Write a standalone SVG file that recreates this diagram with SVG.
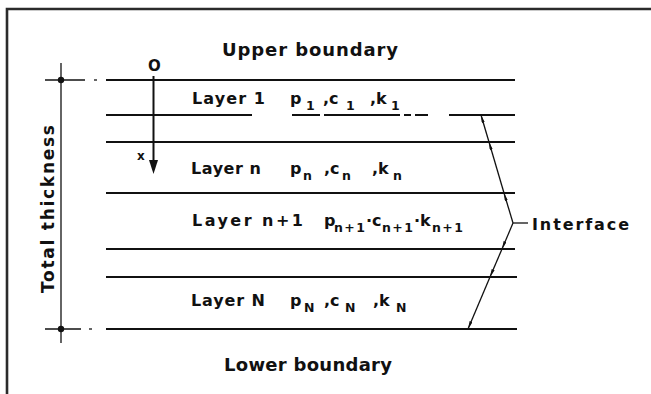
<svg xmlns="http://www.w3.org/2000/svg" width="651" height="394" viewBox="0 0 651 394">
<style>
  .t { font-family: "DejaVu Sans", "Liberation Sans", sans-serif; font-weight: bold; fill: #111; }
  .lay { font-size: 16px; }
  .sub { font-size: 12.5px; }
  .bnd { font-size: 18px; }
  .ln { stroke: #111; stroke-width: 2; fill: none; }
  .thin { stroke: #111; stroke-width: 1.3; fill: none; }
  .lead { stroke: #111; stroke-width: 1.3; fill: none; marker-end: url(#ah); }
</style>
<defs>
  <marker id="ah" viewBox="0 0 10 4" refX="10" refY="2" markerWidth="8" markerHeight="3.2" markerUnits="userSpaceOnUse" orient="auto">
    <path d="M0,0 L10,2 L0,4 z" fill="#111"/>
  </marker>
</defs>
<rect width="651" height="394" fill="#fff"/>
<!-- frame -->
<path d="M7,394 V9 H651" stroke="#2b2b2b" stroke-width="2.6" fill="none"/>

<g id="upper-boundary">
  <text class="t bnd" x="222" y="56" textLength="176" lengthAdjust="spacing">Upper boundary</text>
</g>
<g id="lower-boundary">
  <text class="t bnd" x="224" y="371" textLength="168" lengthAdjust="spacing">Lower boundary</text>
</g>

<g id="layer-lines">
  <line class="ln" x1="106" y1="80" x2="515" y2="80"/>
  <line class="ln" x1="106" y1="115" x2="252" y2="115"/>
  <line class="ln" x1="292" y1="115" x2="320" y2="115"/>
  <line class="ln" x1="324" y1="115" x2="400" y2="115"/>
  <line class="ln" x1="404" y1="115" x2="411" y2="115"/>
  <line class="ln" x1="415" y1="115" x2="428" y2="115"/>
  <line class="ln" x1="449" y1="115" x2="515" y2="115"/>
  <line class="ln" x1="106" y1="142" x2="515" y2="142"/>
  <line class="ln" x1="106" y1="193" x2="515" y2="193"/>
  <line class="ln" x1="106" y1="249" x2="515" y2="249"/>
  <line class="ln" x1="106" y1="277" x2="517" y2="277"/>
  <line class="ln" x1="106" y1="329" x2="517" y2="329"/>
</g>

<g id="x-axis">
  <text class="t" x="148" y="71" font-size="15">O</text>
  <line class="ln" x1="153.5" y1="76" x2="153.5" y2="162"/>
  <path d="M149,160 L158,160 L153.5,174 z" fill="#111"/>
  <text class="t" x="137" y="160" font-size="12">x</text>
</g>

<g id="total-thickness">
  <line class="thin" x1="61" y1="63" x2="61" y2="343" stroke-width="1.6"/>
  <line class="thin" x1="45" y1="80" x2="85" y2="80" stroke-width="1"/>
  <line class="thin" x1="94" y1="80" x2="97" y2="80" stroke-width="1"/>
  <line class="thin" x1="45" y1="329" x2="81" y2="329" stroke-width="1"/>
  <line class="thin" x1="89" y1="329" x2="92" y2="329" stroke-width="1"/>
  <circle cx="61" cy="80" r="3.2" fill="#111"/>
  <circle cx="61" cy="329" r="3.2" fill="#111"/>
  <text class="t" font-size="17" text-anchor="middle" transform="translate(54,209) rotate(-90)" textLength="168" lengthAdjust="spacing">Total thickness</text>
</g>

<g id="layer-1">
  <text class="t lay" x="192" y="104" textLength="73" lengthAdjust="spacing">Layer 1</text>
  <text class="t lay" x="290" y="104">p</text><text class="t sub" x="306" y="110">1</text>
  <text class="t lay" x="323" y="104">,c</text><text class="t sub" x="346" y="110">1</text>
  <text class="t lay" x="370" y="104">,k</text><text class="t sub" x="391" y="110">1</text>
</g>

<g id="layer-n">
  <text class="t lay" x="191" y="174" textLength="70" lengthAdjust="spacing">Layer n</text>
  <text class="t lay" x="290" y="174">p</text><text class="t sub" x="303" y="180">n</text>
  <text class="t lay" x="324" y="174">,c</text><text class="t sub" x="342" y="180">n</text>
  <text class="t lay" x="372" y="174">,k</text><text class="t sub" x="393" y="180">n</text>
</g>

<g id="layer-n1">
  <text class="t lay" x="192" y="226" textLength="111" lengthAdjust="spacing">Layer n+1</text>
  <text class="t lay" x="324" y="226">p</text><text class="t sub" x="334" y="232" textLength="31" lengthAdjust="spacing">n+1</text>
  <text class="t lay" x="366" y="226">·c</text><text class="t sub" x="382" y="232" textLength="31" lengthAdjust="spacing">n+1</text>
  <text class="t lay" x="414" y="226">·k</text><text class="t sub" x="432" y="232" textLength="31" lengthAdjust="spacing">n+1</text>
</g>

<g id="layer-N">
  <text class="t lay" x="191" y="306" textLength="74" lengthAdjust="spacing">Layer N</text>
  <text class="t lay" x="290" y="306">p</text><text class="t sub" x="304" y="312">N</text>
  <text class="t lay" x="324" y="306">,c</text><text class="t sub" x="345" y="312">N</text>
  <text class="t lay" x="373" y="306">,k</text><text class="t sub" x="396" y="312">N</text>
</g>

<g id="interface">
  <text class="t" font-size="16" x="532" y="230" textLength="97" lengthAdjust="spacing">Interface</text>
</g>

<g id="connectors">
  <line class="thin" x1="513" y1="223" x2="528" y2="223" stroke-width="1"/>
  <path class="lead" d="M513,223 L504,193"/>
  <path class="lead" d="M504,193 L489,142"/>
  <path class="lead" d="M489,142 L481,115"/>
  <path class="lead" d="M513,223 L502,249"/>
  <path class="lead" d="M502,249 L490,277"/>
  <path class="lead" d="M490,277 L468,329"/>
</g>
</svg>
